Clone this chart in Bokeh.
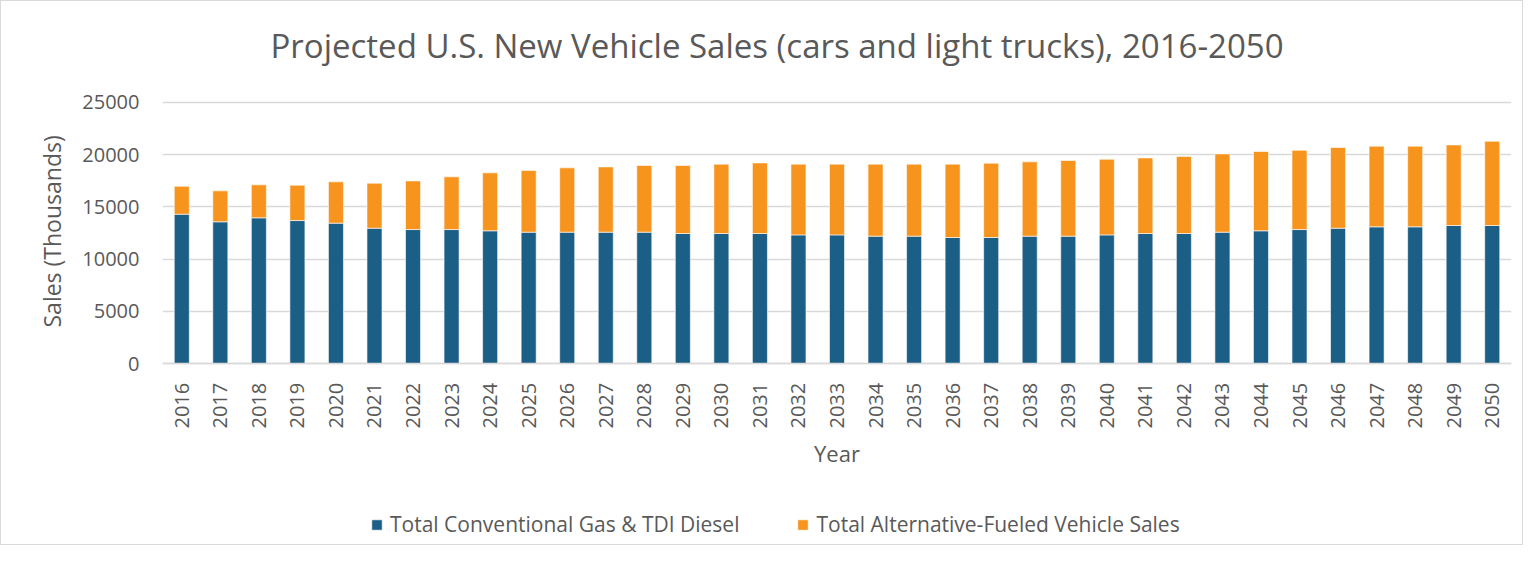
import math
from bokeh.plotting import figure
from bokeh.models import ColumnDataSource, FixedTicker, Legend, LegendItem, Range1d, FactorRange, Title
from bokeh.embed import file_html
from bokeh.resources import INLINE

years = [str(y) for y in range(2016, 2051)]
conventional = [14300, 13570, 13950, 13690, 13440, 12960, 12830, 12830, 12710, 12580,
                12580, 12580, 12580, 12450, 12450, 12450, 12320, 12320, 12200, 12200,
                12070, 12070, 12200, 12200, 12320, 12450, 12450, 12580, 12710, 12830,
                12960, 13090, 13090, 13220, 13220]
totals = [16970, 16530, 17100, 17070, 17390, 17260, 17480, 17870, 18250, 18470,
          18730, 18820, 18950, 18950, 19080, 19200, 19080, 19080, 19080, 19080,
          19080, 19170, 19300, 19430, 19550, 19680, 19810, 20060, 20290, 20410,
          20670, 20800, 20800, 20920, 21270]
alternative = [t - c for t, c in zip(totals, conventional)]
series_names = ["Total Conventional Gas & TDI Diesel", "Total Alternative-Fueled Vehicle Sales"]
colors = ["#1B5E86", "#F7941E"]
y_ticks = [0, 5000, 10000, 15000, 20000, 25000]

source = ColumnDataSource(dict(year=years, conv=conventional, alt=alternative))

TEXT = "#595959"
FONT = "Open Sans"

# frame extends beyond 0..25000 so that the axis (fixed at 0) and legend sit inside it
p = figure(width=1523, height=545, x_range=FactorRange(factors=years),
           y_range=Range1d(-17460, 27935), output_backend="svg", toolbar_location=None,
           min_border_left=161, min_border_right=13, min_border_top=70, min_border_bottom=0)
p.styles = {"border": "1px solid #d9d9d9"}
p.title.text = "Projected U.S. New Vehicle Sales (cars and light trucks), 2016-2050"
p.title.text_font = FONT
p.title.text_font_size = "33px"
p.title.text_font_style = "normal"
p.title.text_color = TEXT
p.title.align = "left"
p.title.offset = 108
p.title.standoff = 8

rs = p.vbar_stack(["conv", "alt"], x="year", width=0.39, color=colors,
                  line_color="#ffffff", line_width=0.6, source=source)

p.outline_line_color = None
p.xgrid.grid_line_color = None
p.ygrid.grid_line_color = "#d9d9d9"
p.ygrid.grid_line_width = 1.3
p.ygrid.ticker = FixedTicker(ticks=y_ticks)

p.yaxis.ticker = FixedTicker(ticks=y_ticks)
p.yaxis.axis_line_color = None
p.yaxis.major_tick_line_color = None
p.yaxis.minor_tick_line_color = None
p.yaxis.major_label_standoff = 17
p.yaxis.major_label_text_font = FONT
p.yaxis.major_label_text_font_size = "20px"
p.yaxis.major_label_text_color = TEXT

ylabel = Title(text="Sales (Thousands)", align="left", offset=219, standoff=23,
               text_font=FONT, text_font_size="23px", text_font_style="normal",
               text_color=TEXT)
p.add_layout(ylabel, "left")

p.xaxis.fixed_location = 0
p.xaxis.axis_line_color = "#d9d9d9"
p.xaxis.axis_line_width = 1.3
p.xaxis.major_tick_line_color = None
p.xaxis.minor_tick_line_color = None
p.xaxis.major_label_orientation = math.pi / 2
p.xaxis.major_label_standoff = 13
p.xaxis.major_label_text_font = FONT
p.xaxis.major_label_text_font_size = "20px"
p.xaxis.major_label_text_color = TEXT
p.xaxis.axis_label = "Year"
p.xaxis.axis_label_text_font = FONT
p.xaxis.axis_label_text_font_size = "22px"
p.xaxis.axis_label_text_font_style = "normal"
p.xaxis.axis_label_text_color = TEXT
p.xaxis.axis_label_standoff = 7

legend = Legend(items=[LegendItem(label=series_names[i], renderers=[rs[i]]) for i in range(2)],
                orientation="horizontal", location=(208, 8))
legend.border_line_color = None
legend.background_fill_alpha = 0
legend.label_text_font = FONT
legend.label_text_font_size = "21px"
legend.label_text_color = TEXT
legend.glyph_width = 13
legend.glyph_height = 13
legend.label_standoff = 7
legend.spacing = 57
legend.padding = 0
legend.margin = 0
p.add_layout(legend)

open("out.html", "w").write(file_html(p, INLINE))
